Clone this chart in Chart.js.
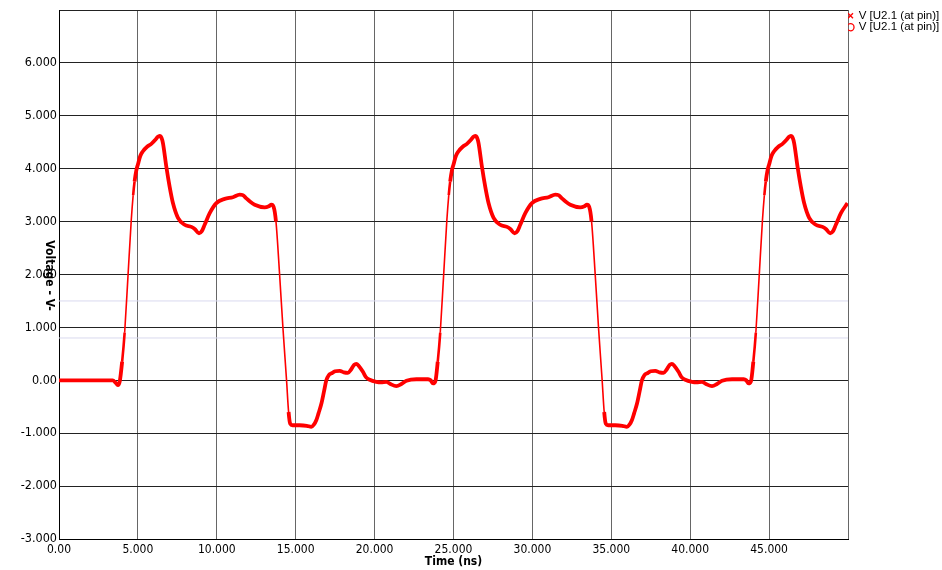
<!DOCTYPE html>
<html>
<head>
<meta charset="utf-8">
<script src="https://cdn.jsdelivr.net/npm/chart.js@4/dist/chart.umd.min.js"></script>
<style>
html,body{margin:0;padding:0;background:#fff;}
#wrap{position:relative;width:942px;height:570px;}
</style>
</head>
<body>
<div id="wrap"><canvas id="c" width="942" height="570"></canvas></div>
<script>
// ---- data ----
const seriesLabel = 'V [U2.1 (at pin)]';
const xAxisTitle = 'Time (ns)';
const yAxisTitle = 'Voltage - V-';

const timeNs = [
  0,1,2,3,3.4,3.6,3.73,
  3.85,4.0,4.16,4.37,4.58,4.7,4.79,4.9,5.0,5.15,5.32,5.6,5.85,6.12,6.25,6.38,6.5,6.59,6.8,7.01,
  7.22,7.54,7.96,8.39,8.6,8.87,9.05,9.23,9.55,9.97,10.5,11.02,11.45,11.65,11.87,12.1,12.4,13.03,13.3,13.46,
  13.6,13.75,13.98,14.2,14.42,14.55,14.65,14.8,15.25,15.7,15.99,16.15,16.31,16.45,16.63,16.8,16.94,17.1,17.26,17.5,
  17.79,18.05,18.31,18.5,18.7,18.84,19.0,19.26,19.45,19.69,20.11,20.4,20.75,21.0,21.38,21.7,22.02,22.65,23.39,23.55,
  23.7,
  23.85,24.0,24.16,24.37,24.58,24.7,24.79,24.9,25.0,25.15,25.32,25.6,25.85,26.12,26.25,26.38,26.5,26.59,26.8,27.01,
  27.22,27.54,27.96,28.39,28.6,28.87,29.05,29.23,29.55,29.97,30.5,31.02,31.45,31.65,31.87,32.1,32.4,33.03,33.3,33.46,
  33.6,33.75,33.98,34.2,34.42,34.55,34.65,34.8,35.25,35.7,35.99,36.15,36.31,36.45,36.63,36.8,36.94,37.1,37.26,37.5,
  37.79,38.05,38.31,38.5,38.7,38.84,39.0,39.26,39.45,39.69,40.11,40.4,40.75,41.0,41.38,41.7,42.02,42.65,43.39,43.55,
  43.7,
  43.85,44.0,44.16,44.37,44.58,44.7,44.79,44.9,45.0,45.15,45.32,45.6,45.85,46.12,46.25,46.38,46.5,46.59,46.8,47.01,
  47.22,47.54,47.96,48.39,48.6,48.87,49.05,49.23,49.55,49.97
];

const voltageV = [
  0,0,0,0,0,-0.05,-0.09,
  -0.02,0.35,0.9,1.96,3.03,3.5,3.76,3.97,4.08,4.24,4.33,4.42,4.47,4.55,4.6,4.62,4.58,4.48,4.04,3.66,
  3.35,3.07,2.94,2.9,2.86,2.78,2.82,2.94,3.16,3.35,3.43,3.46,3.51,3.5,3.44,3.38,3.32,3.27,3.29,3.32,
  3.28,3.0,2.0,0.95,0.0,-0.6,-0.82,-0.85,-0.85,-0.86,-0.88,-0.84,-0.75,-0.62,-0.44,-0.2,0.0,0.1,0.13,0.17,
  0.18,0.15,0.14,0.2,0.29,0.31,0.27,0.16,0.06,0.01,-0.03,-0.04,-0.03,-0.07,-0.11,-0.07,-0.01,0.02,0.02,0.0,
  -0.06,
  -0.02,0.35,0.9,1.96,3.03,3.5,3.76,3.97,4.08,4.24,4.33,4.42,4.47,4.55,4.6,4.62,4.58,4.48,4.04,3.66,
  3.35,3.07,2.94,2.9,2.86,2.78,2.82,2.94,3.16,3.35,3.43,3.46,3.51,3.5,3.44,3.38,3.32,3.27,3.29,3.32,
  3.28,3.0,2.0,0.95,0.0,-0.6,-0.82,-0.85,-0.85,-0.86,-0.88,-0.84,-0.75,-0.62,-0.44,-0.2,0.0,0.1,0.13,0.17,
  0.18,0.15,0.14,0.2,0.29,0.31,0.27,0.16,0.06,0.01,-0.03,-0.04,-0.03,-0.07,-0.11,-0.07,-0.01,0.02,0.02,0.0,
  -0.06,
  -0.02,0.35,0.9,1.96,3.03,3.5,3.76,3.97,4.08,4.24,4.33,4.42,4.47,4.55,4.6,4.62,4.58,4.48,4.04,3.66,
  3.35,3.07,2.94,2.9,2.86,2.78,2.82,2.94,3.16,3.35
];

const thresholdLevels = [1.5, 0.8];
const xRange = [0, 50];
const yRange = [-3, 7];
const xTickLabels = ['0.00','5.000','10.000','15.000','20.000','25.000','30.000','35.000','40.000','45.000',''];
const yTickLabels = ['-3.000','-2.000','-1.000','0.00','1.000','2.000','3.000','4.000','5.000','6.000',''];

// ---- chart ----
const FONT = '"Liberation Sans Narrow", "Arial Narrow", "DejaVu Sans Condensed", "Liberation Sans", sans-serif';
const traceData = timeNs.map((t, i) => ({x: t, y: voltageV[i]}));

const datasets = [
  {
    label: seriesLabel,
    data: traceData,
    borderColor: '#ff0000',
    backgroundColor: '#ff0000',
    borderWidth: 3.6,
    pointRadius: 0,
    cubicInterpolationMode: 'monotone',
    order: 0,
    segment: {
      borderWidth: ctx => {
        const dt = ctx.p1.parsed.x - ctx.p0.parsed.x;
        const s = Math.abs(ctx.p1.parsed.y - ctx.p0.parsed.y) / (dt || 1);
        return s < 2.5 ? 3.8 : (s < 3.8 ? 2.6 : 1.6);
      }
    }
  },
  {
    label: seriesLabel,
    data: traceData,
    showLine: false,
    pointRadius: 0,
    borderColor: '#ff0000',
    order: 1
  }
];
thresholdLevels.forEach(level => {
  datasets.push({
    label: 'threshold',
    data: [{x: xRange[0], y: level}, {x: xRange[1], y: level}],
    borderColor: '#d9d9ef',
    borderWidth: 1,
    pointRadius: 0,
    order: 5
  });
});

const yTitlePlugin = {
  id: 'yTitle',
  afterDraw(chart) {
    const c = chart.ctx;
    c.save();
    c.translate(chart.chartArea.left - 10, (chart.chartArea.top + chart.chartArea.bottom) / 2 + 1);
    c.rotate(Math.PI / 2);
    c.font = 'bold 12px ' + FONT;
    c.fillStyle = '#000';
    c.textAlign = 'center';
    c.textBaseline = 'middle';
    c.fillText(yAxisTitle, 0, 0);
    c.restore();
  }
};

new Chart(document.getElementById('c'), {
  type: 'line',
  data: {datasets},
  options: {
    responsive: false,
    animation: false,
    devicePixelRatio: 1,
    layout: {padding: {top: 10, right: 0, bottom: 0, left: 0}},
    plugins: {
      tooltip: {enabled: false},
      legend: {
        position: 'right',
        align: 'start',
        maxWidth: 94,
        labels: {
          usePointStyle: true,
          boxWidth: 5,
          boxHeight: 5,
          padding: 0,
          color: '#000',
          font: {family: '"Liberation Sans", Arial, sans-serif', size: 11.5},
          generateLabels: () => [
            {text: seriesLabel, pointStyle: 'crossRot', strokeStyle: '#ff0000', fillStyle: 'rgba(0,0,0,0)', lineWidth: 1.3, datasetIndex: 0, hidden: false, fontColor: '#000'},
            {text: seriesLabel, pointStyle: 'circle', strokeStyle: '#ff0000', fillStyle: 'rgba(0,0,0,0)', lineWidth: 1.3, datasetIndex: 1, hidden: false, fontColor: '#000'}
          ]
        }
      }
    },
    scales: {
      x: {
        type: 'linear',
        min: xRange[0],
        max: xRange[1],
        afterFit: s => { s.height = 31; },
        ticks: {
          stepSize: 5,
          padding: 4,
          maxRotation: 0,
          autoSkip: false,
          color: '#000',
          font: {family: FONT, size: 12},
          callback: (v, i) => xTickLabels[i]
        },
        grid: {color: '#666', lineWidth: 1, drawTicks: false},
        border: {display: true, color: '#000', width: 1},
        title: {
          display: true,
          text: xAxisTitle,
          color: '#000',
          font: {family: FONT, size: 12, weight: 'bold'},
          padding: {top: 0, bottom: 1}
        }
      },
      y: {
        type: 'linear',
        min: yRange[0],
        max: yRange[1],
        afterFit: s => { s.width = 59; },
        ticks: {
          stepSize: 1,
          padding: 2,
          color: '#000',
          font: {family: FONT, size: 12.5},
          callback: (v, i) => yTickLabels[i]
        },
        grid: {color: '#222', lineWidth: 1, drawTicks: false},
        border: {display: true, color: '#000', width: 1}
      }
    }
  },
  plugins: [yTitlePlugin]
});
</script>
</body>
</html>
